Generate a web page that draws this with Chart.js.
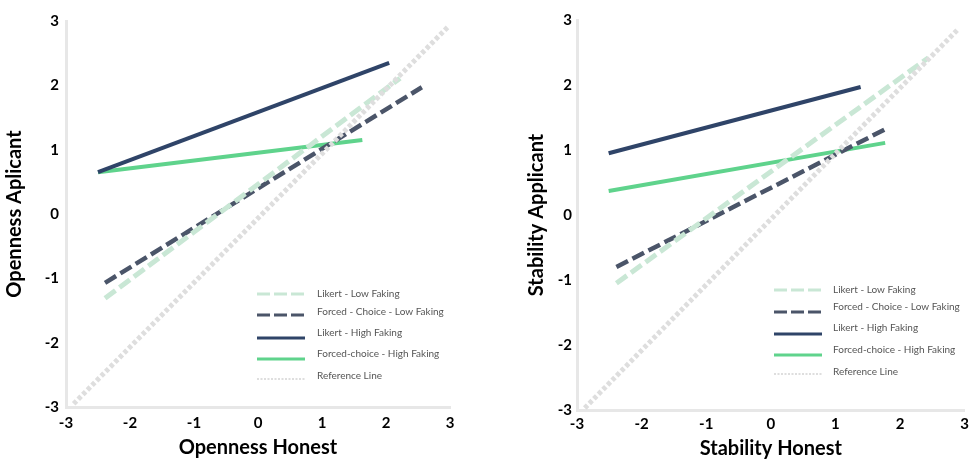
<!DOCTYPE html>
<html>
<head>
<meta charset="utf-8">
<script src="https://cdn.jsdelivr.net/npm/chart.js@4/dist/chart.umd.min.js"></script>
<style>
  body { margin: 0; background: #fff; }
  .panel { position: absolute; top: 0; width: 487px; height: 459px; }
  #left-panel { left: 0; }
  #right-panel { left: 487px; }
</style>
</head>
<body>
<div class="panel" id="left-panel"><canvas id="openness-chart" width="487" height="459"></canvas></div>
<div class="panel" id="right-panel"><canvas id="stability-chart" width="487" height="459"></canvas></div>
<script>
'use strict'
// tick values shared by both panels
var tickValues = [-3, -2, -1, 0, 1, 2, 3];
var seriesNames = ['Likert - Low Faking', 'Forced - Choice - Low Faking', 'Likert - High Faking', 'Forced-choice - High Faking', 'Reference Line'];

// openness panel, [x, y] start and end of each line
var opennessLikertLow = [[-2.39, -1.31], [2.22, 2.11]];
var opennessForcedLow = [[-2.39, -1.07], [2.56, 1.97]];
var opennessLikertHigh = [[-2.5, 0.65], [2.05, 2.35]];
var opennessForcedHigh = [[-2.5, 0.65], [1.63, 1.15]];
var opennessReference = [[-2.88, -2.95], [2.98, 2.92]];

// stability panel
var stabilityLikertLow = [[-2.39, -1.05], [2.44, 2.42]];
var stabilityForcedLow = [[-2.39, -0.8], [1.77, 1.32]];
var stabilityLikertHigh = [[-2.51, 0.95], [1.39, 1.97]];
var stabilityForcedHigh = [[-2.51, 0.37], [1.77, 1.11]];
var stabilityReference = [[-2.88, -2.97], [2.9, 2.86]];

var lineStyles = [
  { color: '#c9e7d5', width: 5, dash: [13, 5] },
  { color: '#4b5569', width: 4.5, dash: [13, 5] },
  { color: '#2f4468', width: 4, dash: [] },
  { color: '#5fd38c', width: 4, dash: [] },
  { color: '#dedede', width: 5, dash: [4, 2.5] }
];

function toPoints(pairs) {
  return pairs.map(function (p) { return { x: p[0], y: p[1] }; });
}

function makeDatasets(lines) {
  var sets = [];
  // reference line goes under everything else
  var order = [4, 0, 1, 2, 3];
  for (var k = 0; k < order.length; k++) {
    var i = order[k];
    var st = lineStyles[i];
    sets.push({
      label: seriesNames[i],
      data: toPoints(lines[i]),
      showLine: true,
      borderColor: st.color,
      borderWidth: st.width,
      borderDash: st.dash,
      borderCapStyle: 'butt',
      pointRadius: 0,
      fill: false
    });
  }
  return sets;
}

// legend drawn inside the plot, like the original
function legendPlugin(box) {
  return {
    id: 'innerLegend',
    afterDraw: function (chart) {
      var ctx = chart.ctx;
      ctx.save();
      ctx.font = '10px Lato';
      ctx.fillStyle = '#555';
      ctx.textBaseline = 'middle';
      for (var i = 0; i < seriesNames.length; i++) {
        var st = lineStyles[i];
        ctx.beginPath();
        ctx.strokeStyle = st.color;
        ctx.lineWidth = i === 4 ? 2 : 3;
        ctx.setLineDash(i === 4 ? [2, 1.5] : (i < 2 ? [13, 4] : []));
        ctx.moveTo(box.x, box.sampleY[i]);
        ctx.lineTo(box.x + 48, box.sampleY[i]);
        ctx.stroke();
        ctx.fillText(seriesNames[i], box.textX, box.textY[i]);
      }
      ctx.restore();
    }
  };
}

function makeChart(canvasId, lines, xTitle, yTitle, geo) {
  var ctx = document.getElementById(canvasId).getContext('2d');
  var tickFont = { family: 'Lato', size: 15, weight: 'bold' };
  return new Chart(ctx, {
    type: 'scatter',
    data: { datasets: makeDatasets(lines) },
    options: {
      responsive: false,
      animation: false,
      layout: { padding: { top: geo.top, right: geo.right, bottom: 0, left: 0 } },
      plugins: { legend: { display: false }, tooltip: { enabled: false } },
      scales: {
        x: {
          type: 'linear', min: -3, max: 3,
          afterBuildTicks: function (s) { s.ticks = tickValues.map(function (v) { return { value: v }; }); },
          afterFit: function (s) { s.height = 459 - geo.bottom; },
          grid: { display: false, drawTicks: false },
          border: { display: true, color: '#e7e7e7', width: 3 },
          ticks: { color: '#000', font: tickFont, padding: geo.xPad },
          title: { display: true, text: xTitle, color: '#000', padding: { top: 0, bottom: geo.xTitlePad },
                   font: { family: 'Lato', size: 20, weight: 'bold', lineHeight: 1 } }
        },
        y: {
          type: 'linear', min: -3, max: 3,
          afterBuildTicks: function (s) { s.ticks = tickValues.map(function (v) { return { value: v }; }); },
          afterFit: function (s) { s.width = geo.left; },
          grid: { display: false, drawTicks: false },
          border: { display: true, color: '#e7e7e7', width: 3 },
          ticks: { color: '#000', font: tickFont, padding: geo.yPad },
          title: { display: true, text: yTitle, color: '#000', padding: { top: geo.yTitlePad, bottom: 0 },
                   font: { family: 'Lato', size: 20, weight: 'bold', lineHeight: 1 } }
        }
      }
    },
    plugins: [legendPlugin(geo.legend)]
  });
}

makeChart('openness-chart',
  [opennessLikertLow, opennessForcedLow, opennessLikertHigh, opennessForcedHigh, opennessReference],
  'Openness Honest', 'Openness Aplicant',
  { left: 66, right: 37, top: 21, bottom: 407, xPad: 7, yPad: 7, xTitlePad: 1, yTitlePad: 5,
    legend: { x: 257, textX: 317, sampleY: [294, 315, 338, 359, 379], textY: [294, 312, 333, 354, 376] } });

makeChart('stability-chart',
  [stabilityLikertLow, stabilityForcedLow, stabilityLikertHigh, stabilityForcedHigh, stabilityReference],
  'Stability Honest', 'Stability Applicant',
  { left: 90, right: 6, top: 20, bottom: 410, xPad: 5, yPad: 5, xTitlePad: 0, yTitlePad: 40,
    legend: { x: 774 - 487, textX: 833 - 487, sampleY: [290, 312, 334, 355, 374], textY: [290, 307, 328, 350, 372] } });
</script>
</body>
</html>
